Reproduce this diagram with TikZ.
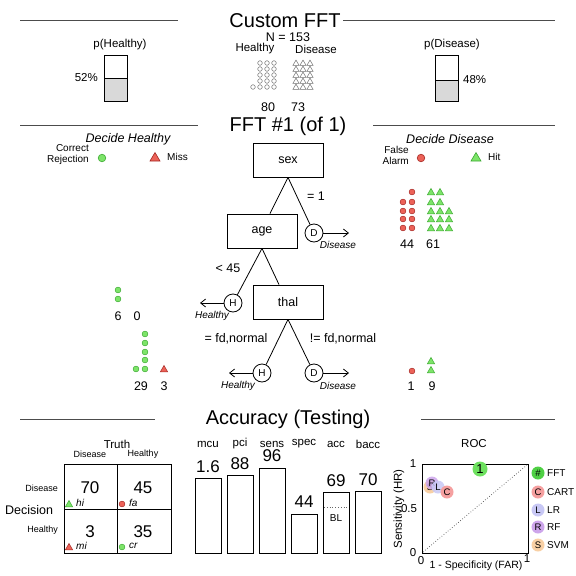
\documentclass[tikz,border=0pt]{standalone}
\usepackage{fontspec}
\setmainfont{Liberation Sans}
\usetikzlibrary{arrows.meta}
\definecolor{gfill}{RGB}{125,228,105}
\definecolor{gline}{RGB}{60,170,50}
\definecolor{rfill}{RGB}{236,98,88}
\definecolor{rline}{RGB}{165,40,35}
\definecolor{barg}{RGB}{217,217,217}
\definecolor{icogray}{RGB}{110,110,110}
\definecolor{rocfft}{RGB}{110,225,95}
\definecolor{roccart}{RGB}{245,160,160}
\definecolor{roclr}{RGB}{200,200,245}
\definecolor{rocrf}{RGB}{205,165,235}
\definecolor{rocsvm}{RGB}{248,208,165}
\newcommand\icoGC[2]{\filldraw[fill=gfill,draw=gline,line width=0.5pt] (#1,#2) circle[radius=2.9pt];}
\newcommand\icoRC[2]{\filldraw[fill=rfill,draw=rline,line width=0.5pt] (#1,#2) circle[radius=2.9pt];}
\newcommand\icoGT[2]{\filldraw[fill=gfill,draw=gline,line width=0.5pt] (#1-3.6,#2+2.8) -- (#1+3.6,#2+2.8) -- (#1,#2-3.6) -- cycle;}
\newcommand\icoRT[2]{\filldraw[fill=rfill,draw=rline,line width=0.5pt] (#1-3.6,#2+2.8) -- (#1+3.6,#2+2.8) -- (#1,#2-3.6) -- cycle;}
\newcommand\icoGCb[2]{\filldraw[fill=gfill,draw=gline,line width=0.6pt] (#1,#2) circle[radius=3.8pt];}
\newcommand\icoRCb[2]{\filldraw[fill=rfill,draw=rline,line width=0.6pt] (#1,#2) circle[radius=3.8pt];}
\newcommand\icoGTb[2]{\filldraw[fill=gfill,draw=gline,line width=0.6pt] (#1-5,#2+4) -- (#1+5,#2+4) -- (#1,#2-4.5) -- cycle;}
\newcommand\icoRTb[2]{\filldraw[fill=rfill,draw=rline,line width=0.6pt] (#1-5,#2+4) -- (#1+5,#2+4) -- (#1,#2-4.5) -- cycle;}
\newcommand\icoOC[2]{\draw[icogray,line width=0.5pt] (#1,#2) circle[radius=2.3pt];}
\newcommand\icoOT[2]{\draw[icogray,line width=0.5pt] (#1-3.1,#2+2.4) -- (#1+3.1,#2+2.4) -- (#1,#2-2.9) -- cycle;}
\tikzset{
  ttl/.style={font=\fontsize{20}{22}\selectfont, inner sep=0pt},
  lbl/.style={font=\fontsize{12.5}{14}\selectfont, inner sep=0pt},
  mid/.style={font=\fontsize{11.5}{13}\selectfont, inner sep=0pt},
  sml/.style={font=\fontsize{10}{11}\selectfont, inner sep=0pt},
  tiny/.style={font=\fontsize{9}{10}\selectfont, inner sep=0pt},
  big/.style={font=\fontsize{17}{19}\selectfont, inner sep=0pt},
  cue/.style={draw, line width=0.8pt, minimum width=70pt, minimum height=34pt, font=\fontsize{12.5}{14}\selectfont},
  exitc/.style={draw, circle, line width=0.8pt, minimum size=18pt, inner sep=0pt, font=\fontsize{10}{12}\selectfont},
  seg/.style={line width=0.8pt},
  exarr/.style={line width=0.8pt, -{Straight Barb[length=5pt,width=8pt]}},
  hline/.style={line width=0.9pt, draw=black!70},
  bar/.style={draw, line width=0.8pt},
  rocpt/.style={circle, inner sep=0pt, minimum size=13pt, font=\fontsize{9.5}{10}\selectfont},
}
\begin{document}
\begin{tikzpicture}[x=1pt,y=-1pt]
\useasboundingbox (0,0) rectangle (576,576);
% ===== Section 1 =====
\draw[hline] (20,20) -- (178,20);
\draw[hline] (343,20) -- (555,20);
\node[ttl] (title1) at (285,21) {Custom FFT};
\node[lbl] (ntot) at (288,37) {N = 153};
\node[mid] (hh) at (255,49) {Healthy};
\node[mid] (hd) at (316,49) {Disease};
\foreach \y in {63,69,75,81,87} {
  \foreach \x in {260,267,274} {\icoOC{\x}{\y}}
  \foreach \x in {296,303,310} {\icoOT{\x}{\y}}
}
\icoOC{253}{87}
\node[lbl] (n80) at (268,107) {80};
\node[lbl] (n73) at (298,107) {73};
% p(Healthy)
\node[mid] (ph) at (120,45) {p(Healthy)};
\fill[barg] (104,78) rectangle (127,101);
\draw[bar] (104,55) rectangle (127,101);
\draw[line width=0.8pt] (104,78) -- (127,78);
\node[mid,anchor=east] (p52) at (98,78) {52\%};
% p(Disease)
\node[mid] (pd) at (452,45) {p(Disease)};
\fill[barg] (435,80) rectangle (458,101);
\draw[bar] (435,55) rectangle (458,101);
\draw[line width=0.8pt] (435,80) -- (458,80);
\node[mid,anchor=west] (p48) at (463,80) {48\%};
% ===== Section 2 =====
\draw[hline] (20,125) -- (198,125);
\draw[hline] (373,125) -- (555,125);
\node[ttl] (title2) at (288,126) {FFT \#1 (of 1)};
\node[lbl] (dh) at (128,139) {\itshape Decide Healthy};
\node[lbl] (dd) at (450,139) {\itshape Decide Disease};
\node[sml,align=right,anchor=east] (crl) at (89,155) {Correct\\Rejection};
\icoGCb{102}{158}
\icoRTb{155}{157}
\node[sml,anchor=west] (missl) at (167,157) {Miss};
\node[sml,align=right,anchor=east] (fal) at (409,155) {False\\Alarm};
\icoRCb{421}{158}
\icoGTb{476}{157}
\node[sml,anchor=west] (hitl) at (488,157) {Hit};
% tree
\node[cue] (sex) at (288,160) {sex};
\node[cue] (age) at (262,231) {age};
\node[cue] (thal) at (288,302) {thal};
\node[exitc] (d1) at (314,233) {D};
\node[exitc] (h1) at (233,303) {H};
\node[exitc] (h2) at (262,373) {H};
\node[exitc] (d2) at (314,373) {D};
\draw[seg] (sex.south) -- ([xshift=8pt]age.north);
\draw[seg] (sex.south) -- (d1);
\draw[seg] (age.south) -- (h1);
\draw[seg] (age.south) -- ([xshift=-9pt]thal.north);
\draw[seg] (thal.south) -- (h2);
\draw[seg] (thal.south) -- (d2);
\coordinate (d1e) at (349,233);
\coordinate (h1e) at (200,303);
\coordinate (h2e) at (229,373);
\coordinate (d2e) at (349,373);
\draw[exarr] (d1.east) -- (d1e);
\draw[exarr] (h1.west) -- (h1e);
\draw[exarr] (h2.west) -- (h2e);
\draw[exarr] (d2.east) -- (d2e);
\node[sml] (d1l) at (338,245) {\itshape Disease};
\node[sml] (h1l) at (212,316) {\itshape Healthy};
\node[sml] (h2l) at (238,386) {\itshape Healthy};
\node[sml] (d2l) at (338,386) {\itshape Disease};
\node[lbl] (c1) at (316,196) {= 1};
\node[lbl] (c2) at (228,268) {< 45};
\node[lbl] (c3) at (236,339) {= fd,normal};
\node[lbl] (c4) at (343,339) {!= fd,normal};
% level 1 icons (disease exit)
\foreach \y in {202,211,219,228} {\icoRC{403}{\y}}
\foreach \y in {192,202,211,219,228} {\icoRC{412}{\y}}
\foreach \y in {192,202,211,219,228} {\icoGT{431}{\y}\icoGT{440}{\y}}
\foreach \y in {211,219,228} {\icoGT{449}{\y}}
\node[lbl] (n44) at (407,244) {44};
\node[lbl] (n61) at (433,244) {61};
% level 2 icons (healthy exit)
\icoGC{118}{290}
\icoGC{118}{299}
\node[lbl] (n6) at (118,316) {6};
\node[lbl] (n0) at (137,316) {0};
% level 3 icons
\foreach \y in {334,343,352,360,369} {\icoGC{145}{\y}}
\icoGC{136}{369}
\icoRT{164}{369}
\node[lbl] (n29) at (141,386) {29};
\node[lbl] (n3) at (164,386) {3};
\icoRC{412}{371}
\icoGT{431}{361}
\icoGT{431}{370}
\node[lbl] (n1) at (411,386) {1};
\node[lbl] (n9) at (432,386) {9};
% ===== Section 3 =====
\draw[hline] (20,419) -- (155,419);
\draw[hline] (421,419) -- (555,419);
\node[ttl] (title3) at (288,419) {Accuracy (Testing)};
% confusion matrix
\node[mid] (truth) at (117,444) {Truth};
\node[tiny] (tdis) at (90,454) {Disease};
\node[tiny] (thea) at (143,454) {Healthy};
\node[tiny,anchor=east] (ddis) at (58,488) {Disease};
\node[tiny,anchor=east] (dhea) at (58,530) {Healthy};
\node[lbl] (dec) at (29,510) {Decision};
\draw[line width=0.8pt] (64,464) rectangle (171,553);
\draw[line width=0.8pt] (117,464) -- (117,553);
\draw[line width=0.8pt] (64,509) -- (171,509);
\node[big] (vhi) at (90,488) {70};
\node[big] (vfa) at (143,488) {45};
\node[big] (vmi) at (90,532) {3};
\node[big] (vcr) at (143,532) {35};
\icoGT{69}{504}
\node[sml,anchor=west] (lhi) at (76,503) {\itshape hi};
\icoRC{122}{504}
\node[sml,anchor=west] (lfa) at (129,503) {\itshape fa};
\icoRT{69}{547}
\node[sml,anchor=west] (lmi) at (76,546) {\itshape mi};
\icoGC{122}{547}
\node[sml,anchor=west] (lcr) at (129,546) {\itshape cr};
% bars
\node[mid] (bmcu) at (208,444) {mcu};
\node[mid] (bpci) at (240,444) {pci};
\node[mid] (bsens) at (272,444) {sens};
\node[mid] (bspec) at (304,444) {spec};
\node[mid] (bacc) at (336,444) {acc};
\node[mid] (bbacc) at (368,444) {bacc};
\draw[bar] (195,478) rectangle (221,553);
\draw[bar] (227,475) rectangle (253,553);
\draw[bar] (259,468) rectangle (285,553);
\draw[bar] (291,514) rectangle (317,553);
\draw[bar] (323,492) rectangle (349,553);
\draw[bar] (355,491) rectangle (381,553);
\node[big] (vmcu) at (208,467) {1.6};
\node[big] (vpci) at (240,464) {88};
\node[big] (vsens) at (272,456) {96};
\node[big] (vspec) at (304,502) {44};
\node[big] (vacc) at (336,481) {69};
\node[big] (vbacc) at (368,480) {70};
\draw[line width=0.8pt, dotted, black!60] (324,507) -- (348,507);
\node[sml] (bl) at (336,518) {BL};
% ROC
\node[mid] (roct) at (474,444) {ROC};
\draw[line width=0.8pt] (422,464) rectangle (528,553);
\draw[line width=0.7pt, dotted, black!70] (423,552) -- (527,465);
\node[mid] (y1) at (413,464) {1};
\node[mid] (y05) at (409,509) {0.5};
\node[mid] (y0) at (413,553) {0};
\node[mid] (x0) at (421,561) {0};
\node[mid] (x1) at (527,559) {1};
\node[font=\fontsize{10.5}{12}\selectfont, inner sep=0pt] (xlab) at (476,566) {1 - Specificity (FAR)};
\node[mid,rotate=90] (ylab) at (399,509) {Sensitivity (HR)};
\node[rocpt,fill=rocsvm] (psvm) at (430,487) {S};
\node[rocpt,fill=rocrf,fill opacity=0.85,text opacity=1] (prf) at (432,483) {R};
\node[rocpt,fill=roclr,fill opacity=0.85,text opacity=1] (plr) at (438,487) {L};
\node[rocpt,fill=roccart] (pcart) at (447,492) {C};
\node[rocpt,fill=rocfft,minimum size=15pt,font=\fontsize{13}{14}\selectfont] (pfft) at (480,469) {1};
% legend
\node[rocpt,fill=rocfft!80!green!90!black] (lfft) at (538,473) {\#};
\node[rocpt,fill=roccart] (lcart) at (538,492) {C};
\node[rocpt,fill=roclr] (llr) at (538,510) {L};
\node[rocpt,fill=rocrf] (lrf) at (538,527) {R};
\node[rocpt,fill=rocsvm] (lsvm) at (538,545) {S};
\node[sml,anchor=west] (tfft) at (547,473) {FFT};
\node[sml,anchor=west] (tcart) at (547,492) {CART};
\node[sml,anchor=west] (tlr) at (547,510) {LR};
\node[sml,anchor=west] (trf) at (547,527) {RF};
\node[sml,anchor=west] (tsvm) at (547,545) {SVM};
\end{tikzpicture}
\end{document}
